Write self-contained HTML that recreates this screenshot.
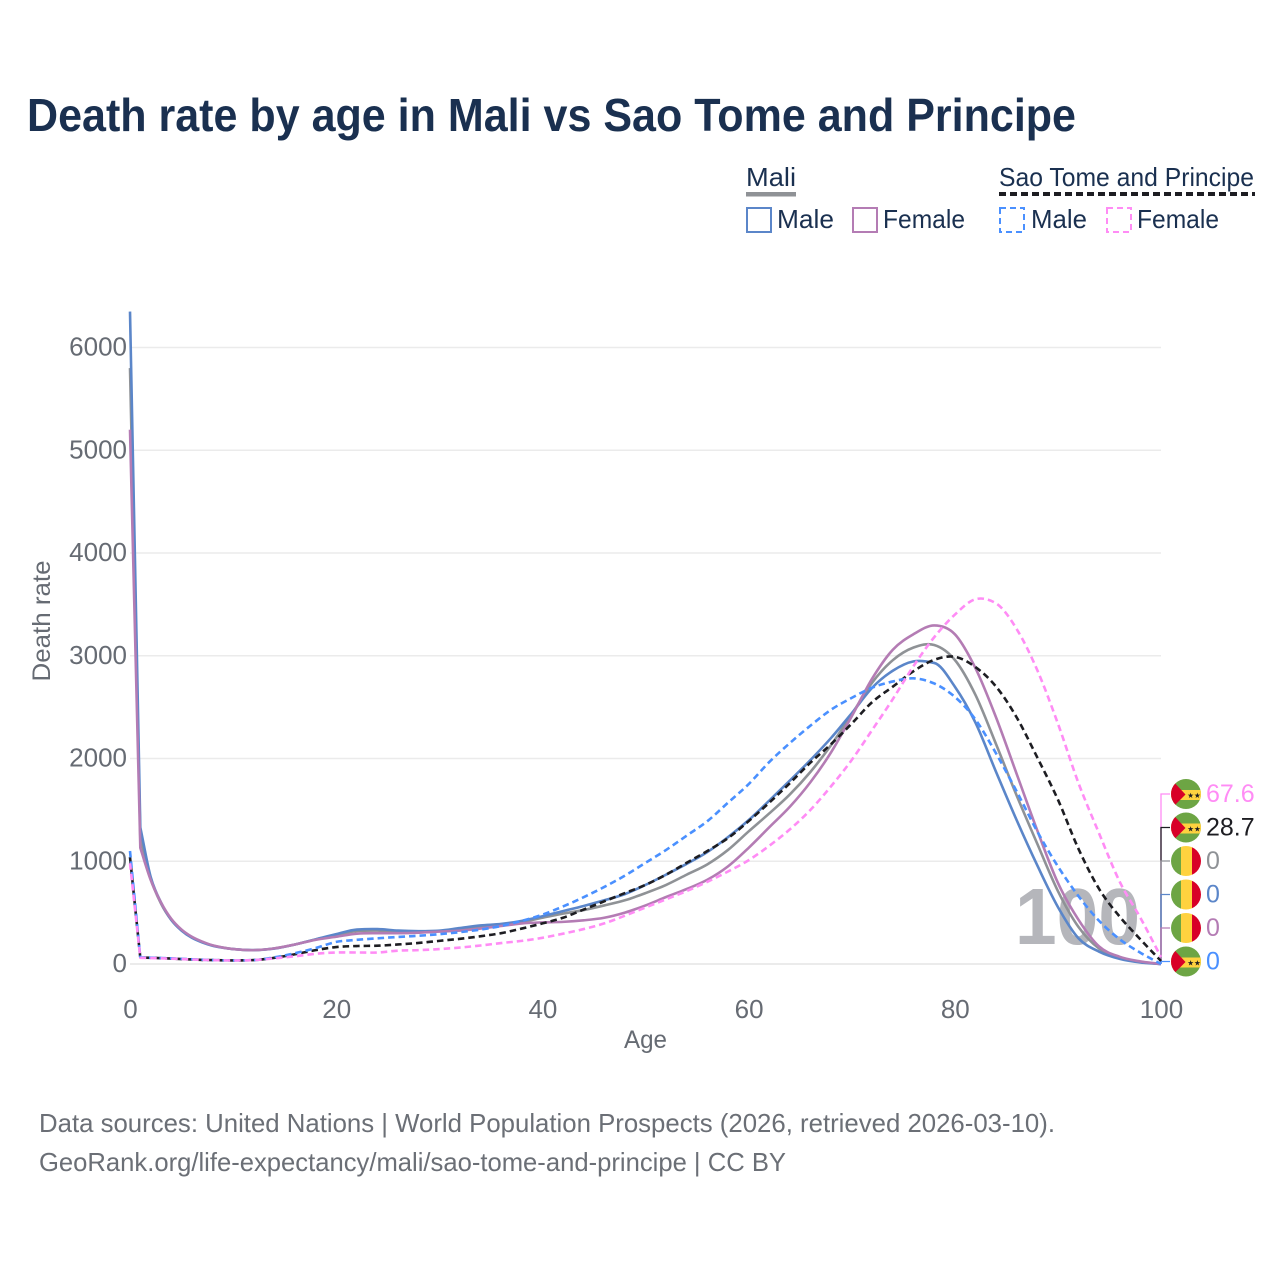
<!DOCTYPE html>
<html lang="en">
<head>
<meta charset="utf-8">
<title>Death rate by age in Mali vs Sao Tome and Principe</title>
<style>
html,body{margin:0;padding:0;background:#fff;width:1280px;height:1280px;overflow:hidden}
svg{display:block}
text{font-family:"Liberation Sans",sans-serif}
</style>
</head>
<body>
<svg id="chart" xmlns="http://www.w3.org/2000/svg" width="1280" height="1280" viewBox="0 0 1280 1280">
  <defs>
    <clipPath id="flag-clip"><circle cx="0" cy="0" r="15"></circle></clipPath>
  </defs>
  <rect width="1280" height="1280" fill="#fff"></rect>
  <text x="27" y="131" font-size="46" font-weight="700" fill="#1a3050" textLength="1049" lengthAdjust="spacingAndGlyphs">Death rate by age in Mali vs Sao Tome and Principe</text>

  <g font-size="26" fill="#1a3050">
    <text x="746" y="186" textLength="50" lengthAdjust="spacingAndGlyphs">Mali</text>
    <rect x="746" y="192" width="50" height="4.5" fill="#8f9296"></rect>
    <rect x="747" y="208" width="24" height="24" fill="none" stroke="#5b86c9" stroke-width="2"></rect>
    <text x="777" y="228" textLength="57" lengthAdjust="spacingAndGlyphs">Male</text>
    <rect x="853" y="208" width="24" height="24" fill="none" stroke="#b47cb4" stroke-width="2"></rect>
    <text x="883" y="228" textLength="82" lengthAdjust="spacingAndGlyphs">Female</text>
    <text x="999" y="186" textLength="255" lengthAdjust="spacingAndGlyphs">Sao Tome and Principe</text>
    <line x1="999" y1="194" x2="1255" y2="194" stroke="#1d1d22" stroke-width="4" stroke-dasharray="7 4"></line>
    <rect x="1000" y="208" width="24" height="24" fill="none" stroke="#4a90ff" stroke-width="2" stroke-dasharray="6 4"></rect>
    <text x="1031" y="228" textLength="56" lengthAdjust="spacingAndGlyphs">Male</text>
    <rect x="1107" y="208" width="24" height="24" fill="none" stroke="#ff8cf5" stroke-width="2" stroke-dasharray="6 4"></rect>
    <text x="1137" y="228" textLength="82" lengthAdjust="spacingAndGlyphs">Female</text>
  </g>

  <g id="grid"></g>
  <g id="y-axis"></g>
  <g id="x-axis"></g>
  <text transform="translate(50 621) rotate(-90)" text-anchor="middle" font-size="25" fill="#666b73" textLength="121" lengthAdjust="spacingAndGlyphs">Death rate</text>
  <text x="645.5" y="1048" text-anchor="middle" font-size="25" fill="#666b73" textLength="43" lengthAdjust="spacingAndGlyphs">Age</text>

  <text x="1015" y="944" font-size="80" font-weight="700" fill="#b5b6bb" textLength="125" lengthAdjust="spacingAndGlyphs">100</text>

  <g id="connectors"></g>
  <g id="series"></g>
  <g id="end-labels"></g>

  <g font-size="26" fill="#6b6f76">
    <text x="39" y="1132" textLength="1016" lengthAdjust="spacingAndGlyphs">Data sources: United Nations | World Population Prospects (2026, retrieved 2026-03-10).</text>
    <text x="39" y="1171" textLength="747" lengthAdjust="spacingAndGlyphs">GeoRank.org/life-expectancy/mali/sao-tome-and-principe | CC BY</text>
  </g>
</svg>
<script>
const ages = [0,1,2,3,4,5,6,7,8,9,10,12,14,16,18,20,22,24,26,28,30,32,34,36,38,40,42,44,46,48,50,52,54,56,58,60,62,64,66,68,70,72,74,76,78,80,82,84,86,88,90,92,94,96,98,100];
const maliBoth = [5800,1230,830,590,430,330,260,215,180,160,145,135,152,190,240,280,320,325,315,318,322,340,362,385,410,450,490,525,570,620,690,770,870,970,1110,1290,1465,1650,1870,2130,2430,2740,2958,3080,3105,2960,2620,2140,1640,1170,710,360,150,60,20,0];
const maliMale = [6350,1330,850,600,430,325,255,210,178,158,145,135,150,190,240,290,335,340,325,320,325,350,375,390,420,465,515,565,620,680,770,870,975,1090,1235,1400,1590,1785,1985,2200,2440,2690,2855,2945,2930,2700,2350,1870,1400,960,555,250,120,50,15,0];
const maliFemale = [5200,1130,820,600,440,335,265,218,182,160,145,135,152,190,235,265,295,300,300,305,315,325,345,370,395,405,410,425,450,500,570,652,730,820,950,1130,1330,1530,1770,2060,2410,2780,3060,3210,3295,3210,2880,2400,1850,1300,790,430,170,70,25,0];
const stpBoth = [1040,62,60,57,53,48,44,40,38,36,35,38,60,95,135,165,175,178,190,205,225,245,270,300,345,395,450,530,610,690,770,870,985,1100,1225,1390,1570,1760,1960,2140,2340,2550,2700,2850,2960,2990,2890,2700,2400,2010,1600,1120,730,460,240,29];
const stpMale = [1100,65,62,58,55,50,46,42,38,36,35,38,65,105,155,215,235,250,263,275,290,310,335,370,420,480,560,650,750,860,985,1110,1250,1390,1570,1750,1965,2150,2320,2475,2590,2690,2750,2780,2730,2600,2380,2050,1680,1290,950,660,420,240,110,0];
const stpFemale = [980,60,58,55,52,48,44,40,38,36,35,38,55,75,100,112,112,112,130,135,145,160,180,204,225,255,295,340,395,470,550,630,710,800,900,1010,1150,1310,1500,1730,1985,2280,2580,2900,3180,3400,3550,3510,3260,2860,2340,1760,1270,800,450,68];
const yTicks = [0,1000,2000,3000,4000,5000,6000];
const xTicks = [0,20,40,60,80,100];
const endValues = [67.6,28.7,0,0,0,0];
const endLabels = ["67.6","28.7","0","0","0","0"];

const NS = "http://www.w3.org/2000/svg";
const xScale = a => 130 + a * 10.31;
const yScale = v => 964 - v * 0.10275;

function make(tag, parent, attrs) {
  const el = document.createElementNS(NS, tag);
  for (const k in attrs) el.setAttribute(k, attrs[k]);
  parent.appendChild(el);
  return el;
}

/* gridlines and ticks */
const grid = document.getElementById("grid");
const yAxis = document.getElementById("y-axis");
const xAxis = document.getElementById("x-axis");
yTicks.forEach(t => {
  const line = make("line", grid, {x1: 130, x2: 1161, y1: yScale(t), y2: yScale(t), stroke: "#ebebeb", "stroke-width": t === 0 ? 2 : 1.4});
  
  
  const label = make("text", yAxis, {x: 127, y: yScale(t) + 8, "text-anchor": "end", "font-size": 26, fill: "#666b73"});
  
  
  label.textContent = String(t);
});
xTicks.forEach(t => {
  const label = make("text", xAxis, {x: xScale(t) + 0.5, y: 1018, "text-anchor": "middle", "font-size": 26, fill: "#666b73"});
  
  
  label.textContent = String(t);
});

/* limited-slope cubic path; the first (infant) segment stays straight */
function linePath(values) {
  const xs = ages.map(xScale);
  const ys = values.map(yScale);
  const n = xs.length;
  const d = [];
  for (let i = 0; i < n - 1; i++) d.push((ys[i + 1] - ys[i]) / (xs[i + 1] - xs[i]));
  const m = new Array(n).fill(0);
  m[n - 1] = d[n - 2];
  m[1] = d[1];
  for (let i = 2; i < n - 1; i++) {
    if (d[i - 1] * d[i] <= 0) {
      m[i] = (d[i - 1] + d[i]) / 2;
      continue;
    }
    const h0 = xs[i] - xs[i - 1];
    const h1 = xs[i + 1] - xs[i];
    const c = (d[i - 1] * h1 + d[i] * h0) / (h0 + h1);
    const lim = 3 * Math.min(Math.abs(d[i - 1]), Math.abs(d[i]));
    m[i] = Math.sign(c) * Math.min(Math.abs(c), lim);
  }
  let p = "M" + xs[0].toFixed(2) + "," + ys[0].toFixed(2) + "L" + xs[1].toFixed(2) + "," + ys[1].toFixed(2);
  for (let i = 1; i < n - 1; i++) {
    const h = (xs[i + 1] - xs[i]) / 3;
    p += "C" + (xs[i] + h).toFixed(2) + "," + (ys[i] + m[i] * h).toFixed(2) + " " +
         (xs[i + 1] - h).toFixed(2) + "," + (ys[i + 1] - m[i + 1] * h).toFixed(2) + " " +
         xs[i + 1].toFixed(2) + "," + ys[i + 1].toFixed(2);
  }
  return p;
}

const seriesGroup = document.getElementById("series");
const styles = [
  {name: "mali-both", values: maliBoth, color: "#8f9296", dash: ""},
  {name: "mali-male", values: maliMale, color: "#5b86c9", dash: ""},
  {name: "mali-female", values: maliFemale, color: "#b47cb4", dash: ""},
  {name: "sao-tome-both", values: stpBoth, color: "#1d1d22", dash: "6.5 4"},
  {name: "sao-tome-male", values: stpMale, color: "#4a90ff", dash: "6.5 4"},
  {name: "sao-tome-female", values: stpFemale, color: "#ff8cf5", dash: "6.5 4"}
];
styles.forEach(s => {
  const path = make("path", seriesGroup, {d: linePath(s.values), fill: "none", stroke: s.color, "stroke-width": 2.6, "stroke-linejoin": "round"});
  if (s.dash) path.setAttribute("stroke-dasharray", s.dash);
  
  
});

/* end-of-line labels with flags */
const labelColors = ["#ff8cf5", "#1d1d22", "#8f9296", "#5b86c9", "#b47cb4", "#4a90ff"];
const labelFlags = ["stp", "stp", "mali", "mali", "mali", "stp"];
const connectors = document.getElementById("connectors");
const endGroup = document.getElementById("end-labels");

function drawFlag(parent, kind) {
  const g = make("g", parent, {"clip-path": "url(#flag-clip)"});
  if (kind === "mali") {
    make("rect", g, {x: -15, y: -15, width: 10, height: 30, fill: "#6da544"});
    make("rect", g, {x: -5, y: -15, width: 11, height: 30, fill: "#ffd23f"});
    make("rect", g, {x: 6, y: -15, width: 9, height: 30, fill: "#d80027"});
  } else {
    make("rect", g, {x: -15, y: -15, width: 30, height: 30, fill: "#6da544"});
    make("rect", g, {x: -15, y: -4, width: 30, height: 10, fill: "#ffd23f"});
    make("polygon", g, {points: "-15,-15 -0.5,0.5 -15,15", fill: "#d80027"});
    const stars = make("text", g, {x: 8, y: 4, "text-anchor": "middle", "font-size": 7.5, fill: "#1d1d22"});
    stars.style.fontFamily = '"DejaVu Sans",sans-serif';
    stars.textContent = "★★";
  }
}

endValues.forEach((v, i) => {
  const ly = 794 + i * 33.5;
  const c = make("path", connectors, {d: "M1161," + yScale(v) + "V" + ly + "H1170", fill: "none", stroke: labelColors[i], "stroke-width": 1.3});
  
  
  const flag = make("g", endGroup, {transform: "translate(1186 " + ly + ")"});
  
  
  drawFlag(flag, labelFlags[i]);
  const t = make("text", endGroup, {x: 1206, y: ly + 8, "font-size": 25, fill: labelColors[i]});
  
  
  t.textContent = endLabels[i];
});
</script>
</body>
</html>
